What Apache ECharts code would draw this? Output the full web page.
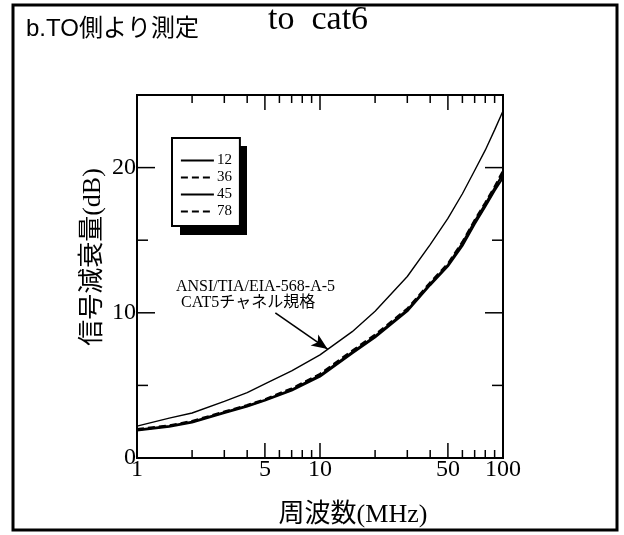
<!DOCTYPE html>
<html>
<head>
<meta charset="utf-8">
<script src="https://cdn.jsdelivr.net/npm/echarts@6/dist/echarts.min.js"></script>
<style>
  html, body { margin: 0; padding: 0; background: #fff; }
  #chart { width: 624px; height: 535px; }
</style>
</head>
<body>
<div id="chart"></div>
<script>
// frequency points (MHz)
const freq = [1, 1.5, 2, 3, 4, 5, 7, 10, 15, 20, 30, 40, 50, 60, 70, 80, 90, 100];
// ANSI/TIA/EIA-568-A-5 CAT5 channel limit (dB)
const limitCat5 = [2.2, 2.75, 3.1, 3.9, 4.5, 5.1, 6.0, 7.1, 8.7, 10.1, 12.5, 14.7, 16.5, 18.2, 19.8, 21.2, 22.6, 23.9];
// measured pairs (dB)
const pair12 = [1.95, 2.2, 2.5, 3.15, 3.6, 4.0, 4.7, 5.7, 7.3, 8.4, 10.2, 12.0, 13.3, 14.8, 16.3, 17.5, 18.6, 19.6];
const pair36 = [2.0, 2.25, 2.55, 3.2, 3.65, 4.05, 4.8, 5.8, 7.4, 8.5, 10.3, 12.1, 13.4, 14.9, 16.4, 17.6, 18.7, 19.8];
const pair45 = [1.9, 2.15, 2.45, 3.1, 3.55, 3.95, 4.65, 5.6, 7.2, 8.3, 10.1, 11.9, 13.2, 14.6, 16.1, 17.3, 18.4, 19.3];
const pair78 = [1.95, 2.2, 2.5, 3.15, 3.6, 4.0, 4.75, 5.75, 7.3, 8.4, 10.2, 12.0, 13.3, 14.7, 16.2, 17.4, 18.5, 19.5];

const legendNames = ['12', '36', '45', '78'];
const xLabels = [1, 5, 10, 50, 100];
const xMinorTicks = [2, 3, 4, 6, 7, 8, 9, 20, 30, 40, 60, 70, 80, 90];
const xMajorTicks = [5, 10, 50];
const yMinorTicks = [5, 15];
const yMajorTicks = [10, 20];
const yMin = 0;
const yMax = 25;

const serif = "'Liberation Serif', 'Noto Sans CJK JP'";
const sans = "'Liberation Sans', 'Noto Sans CJK JP'";

const pts = (vals) => freq.map((f, i) => [f, vals[i]]);

const chart = echarts.init(document.getElementById('chart'));

const xTickData = xMinorTicks.map(v => [v, 0, 0]).concat(xMajorTicks.map(v => [v, 0, 1]));
const yTickData = yMinorTicks.map(v => [1, v, 0]).concat(yMajorTicks.map(v => [1, v, 1]));

const tickStyle = { stroke: '#000', lineWidth: 1.5 };

const pairSeries = (name, vals, dashed) => ({
  name: name,
  type: 'line',
  data: pts(vals),
  symbol: 'none',
  color: '#000',
  lineStyle: { color: '#000', width: 2, type: dashed ? [7, 4] : 'solid' },
  z: 3,
});

const option = {
  animation: false,
  backgroundColor: '#fff',
  grid: {
    left: 137, right: 121, top: 95, bottom: 77,
    show: true, borderColor: '#000', borderWidth: 2, backgroundColor: 'transparent',
  },
  legend: {
    data: legendNames,
    orient: 'vertical',
    left: 172,
    top: 138,
    z: 10,
    padding: [15, 8, 7, 8],
    itemGap: 2,
    itemWidth: 33,
    itemHeight: 14,
    backgroundColor: '#fff',
    borderColor: '#000',
    borderWidth: 2,
    itemStyle: { color: 'transparent', borderColor: 'transparent', borderWidth: 0, opacity: 0 },
    lineStyle: { width: 1.8 },
    textStyle: { fontFamily: serif, fontSize: 15, color: '#000', padding: [0, 0, 0, -2] },
    selectedMode: false,
  },
  xAxis: {
    type: 'log',
    logBase: 10,
    min: 1,
    max: 100,
    axisLine: { show: true, lineStyle: { color: '#000', width: 2 } },
    axisTick: { show: false },
    splitLine: { show: false },
    minorTick: { show: false },
    axisLabel: {
      customValues: xLabels,
      color: '#000',
      fontFamily: serif,
      fontSize: 24,
      margin: 0,
      showMinLabel: true,
      showMaxLabel: true,
    },
  },
  yAxis: {
    type: 'value',
    min: yMin,
    max: yMax,
    interval: 5,
    axisLine: { show: true, lineStyle: { color: '#000', width: 2 } },
    axisTick: { show: false },
    splitLine: { show: false },
    axisLabel: {
      color: '#000',
      fontFamily: serif,
      fontSize: 24,
      margin: 1,
      formatter: v => (v % 10 === 0 && v <= 20 ? String(v) : ''),
    },
  },
  graphic: [
    {
      type: 'rect', silent: true, z: 100,
      shape: { x: 13, y: 5, width: 604, height: 525 },
      style: { fill: 'none', stroke: '#000', lineWidth: 3 },
    },
    {
      // legend drop shadow
      type: 'rect', silent: true, z: 1,
      shape: { x: 180, y: 146, width: 67, height: 89 },
      style: { fill: '#000' },
    },
    {
      type: 'text', left: 26, top: 17,
      style: { text: 'b.TO側より測定', font: '24px ' + sans, fill: '#000' },
    },
    {
      type: 'text', left: 268, top: 3,
      style: { text: 'to  cat6', font: '34px ' + serif, fill: '#000' },
    },
    {
      type: 'text', x: 93, y: 257, rotation: Math.PI / 2,
      style: { text: '信号減衰量(dB)', font: '26px ' + serif, fill: '#000', align: 'center', verticalAlign: 'middle' },
    },
    {
      type: 'text', x: 353, y: 515,
      style: { text: '周波数(MHz)', font: '26px ' + serif, fill: '#000', align: 'center', verticalAlign: 'middle' },
    },
    {
      type: 'text', left: 176, top: 279,
      style: { text: 'ANSI/TIA/EIA-568-A-5', font: '16px ' + serif, fill: '#000' },
    },
    {
      type: 'text', left: 181, top: 295,
      style: { text: 'CAT5チャネル規格', font: '16px ' + serif, fill: '#000' },
    },
  ],
  series: [
    pairSeries('12', pair12, false),
    pairSeries('36', pair36, true),
    pairSeries('45', pair45, false),
    pairSeries('78', pair78, true),
    {
      name: 'ANSI/TIA/EIA-568-A-5',
      type: 'line',
      data: pts(limitCat5),
      symbol: 'none',
      lineStyle: { color: '#000', width: 1.4 },
      z: 3,
      markLine: {
        silent: true,
        symbol: ['none', 'arrow'],
        symbolSize: [10, 16],
        label: { show: false },
        lineStyle: { color: '#000', width: 1.6, type: 'solid' },
        data: [[{ coord: [5.7, 10.0] }, { coord: [11.0, 7.5] }]],
      },
    },
    {
      name: 'xticks',
      type: 'custom',
      silent: true,
      z: 5,
      data: xTickData,
      encode: { x: 0, y: 1 },
      renderItem: (params, api) => {
        const len = api.value(2) ? 15 : 8;
        const b = api.coord([api.value(0), yMin]);
        const t = api.coord([api.value(0), yMax]);
        return {
          type: 'group',
          children: [
            { type: 'line', shape: { x1: b[0], y1: b[1], x2: b[0], y2: b[1] - len }, style: tickStyle },
            { type: 'line', shape: { x1: t[0], y1: t[1], x2: t[0], y2: t[1] + len }, style: tickStyle },
          ],
        };
      },
    },
    {
      name: 'yticks',
      type: 'custom',
      silent: true,
      z: 5,
      data: yTickData,
      encode: { x: 0, y: 1 },
      renderItem: (params, api) => {
        const len = api.value(2) ? 18 : 11;
        const l = api.coord([1, api.value(1)]);
        const r = api.coord([100, api.value(1)]);
        return {
          type: 'group',
          children: [
            { type: 'line', shape: { x1: l[0], y1: l[1], x2: l[0] + len, y2: l[1] }, style: tickStyle },
            { type: 'line', shape: { x1: r[0], y1: r[1], x2: r[0] - len, y2: r[1] }, style: tickStyle },
          ],
        };
      },
    },
  ],
};

chart.setOption(option);
</script>
</body>
</html>
